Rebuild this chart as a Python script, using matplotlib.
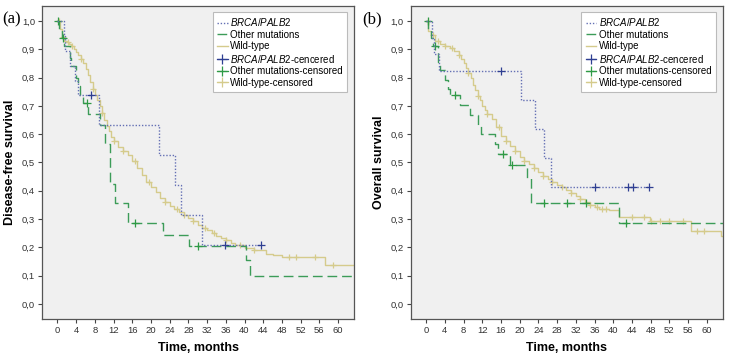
import numpy as np
import matplotlib
matplotlib.use("Agg")
import matplotlib.pyplot as plt
from matplotlib.lines import Line2D

plt.rcParams['font.family'] = ['Liberation Sans', 'DejaVu Sans']
plt.rcParams['mathtext.fontset'] = 'custom'
plt.rcParams['mathtext.it'] = 'Liberation Sans:italic'
plt.rcParams['mathtext.rm'] = 'Liberation Sans'

# ---------------- data ----------------
x_ticks = list(range(0, 61, 4))
y_ticks = [0.0, 0.1, 0.2, 0.3, 0.4, 0.5, 0.6, 0.7, 0.8, 0.9, 1.0]
y_tick_labels = ['0,0', '0,1', '0,2', '0,3', '0,4', '0,5', '0,6', '0,7', '0,8', '0,9', '1,0']

# Panel (a): disease-free survival
a_brca_t = [0, 1.35, 1.6, 2.6, 3.8, 4.3, 8.9, 21.7, 25.2, 26.5, 30.8]
a_brca_s = [1.0, 0.947, 0.895, 0.842, 0.789, 0.737, 0.632, 0.527, 0.421, 0.316, 0.21]
a_brca_end = 43.5
a_brca_cens = [7.1, 35.8, 43.5]

a_oth_t = [0, 0.4, 0.9, 1.3, 2.6, 3.0, 4.0, 4.4, 4.8, 5.5, 6.6, 9.0, 10.1, 11.2, 12.3, 15.1, 22.5, 28.2, 40.4, 41.1]
a_oth_s = [1.0, 0.97, 0.94, 0.913, 0.87, 0.84, 0.80, 0.77, 0.74, 0.71, 0.672, 0.633, 0.565, 0.425, 0.357, 0.287, 0.245, 0.204, 0.157, 0.10]
a_oth_end = 63.4
a_oth_cens = [0.2, 1.2, 6.3, 16.5, 30.0]

a_wild_t = [0, 0.5, 1, 1.5, 2, 2.5, 3, 3.5, 4, 4.5, 5, 5.5, 6, 6.5, 7, 7.5, 8, 8.5, 9, 9.5,
            10, 10.5, 11, 11.5, 12, 13, 14, 15, 16, 17, 18, 19, 20, 21, 22, 23, 24, 25, 26,
            27, 28, 29, 30, 31, 32, 33, 34, 35, 36, 37, 38, 40, 42, 44.5, 46, 48, 57.2]
a_wild_s = [1.0, 0.97, 0.945, 0.93, 0.925, 0.917, 0.91, 0.90, 0.89, 0.88, 0.865, 0.85, 0.83,
            0.81, 0.785, 0.76, 0.74, 0.72, 0.70, 0.675, 0.65, 0.63, 0.61, 0.59, 0.575, 0.555,
            0.54, 0.525, 0.505, 0.48, 0.455, 0.432, 0.415, 0.395, 0.375, 0.36, 0.348, 0.335,
            0.325, 0.315, 0.305, 0.295, 0.28, 0.27, 0.26, 0.25, 0.24, 0.232, 0.225, 0.215,
            0.208, 0.198, 0.19, 0.178, 0.172, 0.166, 0.139]
a_wild_end = 63.4
a_wild_cens = [0.3, 1.2, 2.2, 3.2, 5, 7.5, 9.5, 12, 14, 16.5, 19.5, 23, 25.5, 27, 29, 31.5,
               33.5, 36, 39, 42, 49.5, 51, 55, 59]

# Panel (b): overall survival
b_brca_t = [0, 1.3, 1.6, 2.7, 20.2, 23.3, 25.2, 26.6]
b_brca_s = [1.0, 0.941, 0.882, 0.824, 0.722, 0.618, 0.515, 0.412]
b_brca_end = 47.6
b_brca_cens = [16.1, 36.0, 43.2, 44.2, 47.6]

b_oth_t = [0, 0.4, 1.0, 1.4, 2.6, 3.0, 4.0, 4.7, 5.2, 7.2, 9.3, 11.1, 11.8, 14.7, 15.4, 17.9, 21.6, 22.5, 41.2]
b_oth_s = [1.0, 0.97, 0.94, 0.913, 0.855, 0.827, 0.79, 0.76, 0.74, 0.704, 0.669, 0.634, 0.60, 0.565, 0.53, 0.49, 0.445, 0.357, 0.285]
b_oth_end = 63.4
b_oth_cens = [0.3, 1.8, 6.1, 16.5, 18.3, 25.2, 30.2, 34.1, 42.8]

b_wild_t = [0, 0.5, 1, 2, 3, 4, 5, 6, 7, 7.5, 8, 8.5, 9, 9.5, 10, 10.5, 11, 11.5, 12, 12.5,
            13, 14, 15, 16, 17, 18, 19, 20, 21, 22, 23, 24, 25, 26, 27, 28, 29, 30, 31, 32,
            33, 34, 35, 36, 37, 39, 41.2, 47.8, 56.6, 63.0]
b_wild_s = [1.0, 0.965, 0.95, 0.928, 0.918, 0.912, 0.905, 0.895, 0.88, 0.865, 0.85, 0.835,
            0.815, 0.80, 0.775, 0.755, 0.735, 0.72, 0.70, 0.685, 0.672, 0.655, 0.625, 0.595,
            0.575, 0.56, 0.54, 0.52, 0.507, 0.493, 0.48, 0.465, 0.452, 0.44, 0.43, 0.42, 0.412,
            0.404, 0.392, 0.38, 0.37, 0.362, 0.35, 0.342, 0.336, 0.333, 0.306, 0.292, 0.258, 0.24]
b_wild_end = 63.4
b_wild_cens = [0.3, 1.5, 2.5, 4, 5.5, 7, 9, 11, 13, 15.5, 17, 19, 21, 23, 25, 27, 29, 31, 33,
               35, 36.5, 37.5, 38.5, 44, 46.5, 48, 50, 52, 55, 58, 59.5]

labels = [r'$\mathit{BRCA/PALB2}$', 'Other mutations', 'Wild-type',
          r'$\mathit{BRCA/PALB2}$-cencered', 'Other mutations-censored', 'Wild-type-censored']

# ---------------- styles ----------------
C_BRCA = '#6470b4'
C_BRCA_M = '#2f3f92'
C_OTH = '#3c9c58'
C_OTH_M = '#2f9a45'
C_WILD = '#d5cb8c'

st_brca = dict(color=C_BRCA, lw=1.0, dashes=(1.0, 1.3))
st_oth = dict(color=C_OTH, lw=1.0, dashes=(7, 3.5))
st_wild = dict(color=C_WILD, lw=1.0, linestyle='-')


def surv_at(t, s, tc):
    t = np.asarray(t)
    s = np.asarray(s)
    idx = np.searchsorted(t, np.asarray(tc), side='right') - 1
    return s[idx]


def draw_km(ax, t, s, end, cens, style, mcolor, ms):
    tt = list(t) + [end]
    ss = list(s) + [s[-1]]
    ax.step(tt, ss, where='post', **style)
    ax.plot(cens, surv_at(t, s, cens), linestyle='none', marker='+',
            color=mcolor, ms=ms, mew=0.9)


fig = plt.figure(figsize=(7.34, 3.57), dpi=100)
fig.patch.set_facecolor('white')

ax_a = fig.add_axes([42 / 734, 1 - 319 / 357, 312 / 734, 313 / 357])
ax_b = fig.add_axes([410.7 / 734, 1 - 319 / 357, 312 / 734, 313 / 357])

panels = [
    (ax_a, (a_brca_t, a_brca_s, a_brca_end, a_brca_cens),
     (a_oth_t, a_oth_s, a_oth_end, a_oth_cens),
     (a_wild_t, a_wild_s, a_wild_end, a_wild_cens), 'Disease-free survival', '(a)'),
    (ax_b, (b_brca_t, b_brca_s, b_brca_end, b_brca_cens),
     (b_oth_t, b_oth_s, b_oth_end, b_oth_cens),
     (b_wild_t, b_wild_s, b_wild_end, b_wild_cens), 'Overall survival', '(b)'),
]

for ax, brca, oth, wild, ylab, tag in panels:
    ax.set_facecolor('#f0f0f0')
    draw_km(ax, *wild, st_wild, C_WILD, 5)
    draw_km(ax, *oth, st_oth, C_OTH_M, 6)
    draw_km(ax, *brca, st_brca, C_BRCA_M, 6)

    ax.set_xlim(-3.3, 63.4)
    ax.set_ylim(-0.053, 1.053)
    ax.set_xticks(x_ticks)
    ax.set_xticklabels([str(v) for v in x_ticks])
    ax.set_yticks(y_ticks)
    ax.set_yticklabels(y_tick_labels)
    ax.tick_params(axis='both', direction='out', length=3, width=0.8, colors='#444444',
                   labelsize=6.8, labelcolor='#333333', pad=2)
    for sp in ax.spines.values():
        sp.set_color('#555555')
        sp.set_linewidth(0.9)

    ax.set_ylabel(ylab, fontsize=9, fontweight='bold', labelpad=4)
    ax.set_xlabel('Time, months', fontsize=9, fontweight='bold', labelpad=5)

    handles = [
        Line2D([], [], **st_brca),
        Line2D([], [], **st_oth),
        Line2D([], [], **st_wild),
        Line2D([], [], color=C_BRCA_M, lw=0.9, marker='+', ms=7, mew=0.9),
        Line2D([], [], color=C_OTH_M, lw=0.9, marker='+', ms=7, mew=0.9),
        Line2D([], [], color=C_WILD, lw=0.9, marker='+', ms=7, mew=0.9),
    ]
    leg = ax.legend(handles, labels, loc='upper right', bbox_to_anchor=(0.978, 0.981),
                    borderaxespad=0, fontsize=7.0, frameon=True, fancybox=False,
                    handlelength=1.1, handletextpad=0.25, labelspacing=0.15,
                    borderpad=0.45)
    leg.get_frame().set_edgecolor('#bbbbbb')
    leg.get_frame().set_linewidth(0.8)
    leg.get_frame().set_facecolor('white')
    leg.get_frame().set_alpha(1)

fig.text(2 / 734, 1 - 19 / 357, '(a)', fontsize=12, family='Liberation Serif', va='center', ha='left')
fig.text(362 / 734, 1 - 19 / 357, '(b)', fontsize=12, family='Liberation Serif', va='center', ha='left')

fig.savefig('out.png', dpi=100)
